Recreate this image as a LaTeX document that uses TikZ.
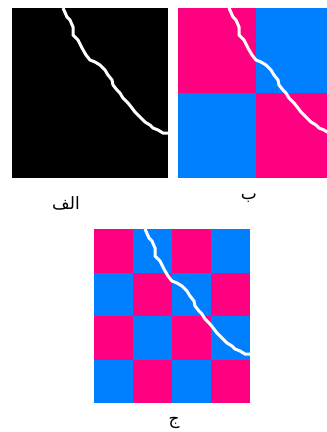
\documentclass[tikz,border=0pt]{standalone}
\usepackage{fontspec}
\newfontfamily\arabicfont[Script=Arabic]{DejaVu Sans}
\TeXXeTstate=1
\usepackage{tikz}
\usetikzlibrary{positioning}
\definecolor{hotpink}{RGB}{255,0,128}
\definecolor{skyblue}{RGB}{0,128,255}

\tikzset{
    edgecurve/.pic={
        \draw[white, line width=3pt, line join=miter]
            (51,0) -- (55,9) -- (58,12) -- (61,19) -- (61,27) -- (66,32) -- (70,40)
            -- (74,47) -- (78,52) -- (83,54) -- (88,57) -- (93,62) -- (96,67)
            -- (100,72) -- (101,77) -- (105,82) -- (108,85) -- (111,90) -- (116,95)
            -- (120,100) -- (123,104) -- (128,109) -- (133,114) -- (138,117)
            -- (141,120) -- (146,122) -- (151,125) -- (156,125);
    },
    caption/.style={font=\arabicfont\fontsize{17}{19}\selectfont, inner sep=0pt}
}

\begin{document}
\begin{tikzpicture}[x=1pt, y=-1pt]
        \useasboundingbox (0,0) rectangle (327,432);
        \clip (0,0) rectangle (327,432);
        
        % Panel A
        \fill[black] (12,8) rectangle (168,178);
        \pic at (12,8) {edgecurve};
        \node (capA) [caption] at (66,203) {\beginR الف\endR};
        
        % Panel B
        \fill[hotpink] (178,8) rectangle (256,93);
        \fill[skyblue] (256,8) rectangle (334,93);
        \fill[skyblue] (178,93) rectangle (256,178);
        \fill[hotpink] (256,93) rectangle (334,178);
        \pic at (178,8) {edgecurve};
        \node (capB) [caption] at (249,198) {\beginR ب\endR};
        
        % Panel C
        \foreach \i in {0,...,3}
            \foreach \j in {0,...,3} {
                \ifodd\numexpr\i+\j\relax
                    \fill[skyblue] (94+39*\i,229+43.5*\j) rectangle ++(39,43.5);
                \else
                    \fill[hotpink] (94+39*\i,229+43.5*\j) rectangle ++(39,43.5);
                \fi
            }
        \pic at (94,229) {edgecurve};
        \node (capC) [caption] at (174,423) {\beginR ج\endR};
    \end{tikzpicture}
\end{document}
